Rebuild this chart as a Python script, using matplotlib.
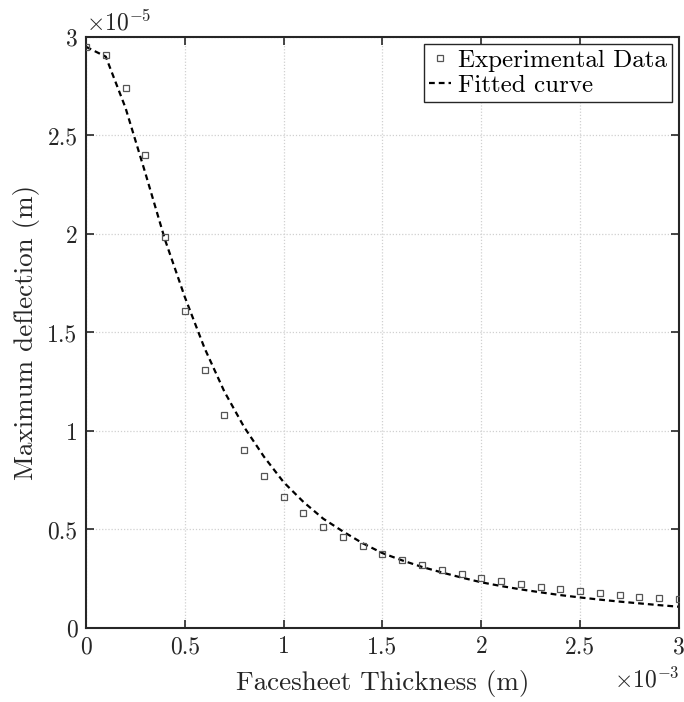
import matplotlib
matplotlib.use("Agg")
import matplotlib.pyplot as plt
from matplotlib.ticker import FuncFormatter, MultipleLocator

plt.rcParams['font.family'] = 'serif'
plt.rcParams['font.serif'] = ['cmr10', 'DejaVu Serif']
plt.rcParams['mathtext.fontset'] = 'cm'
plt.rcParams['axes.unicode_minus'] = False

# Facesheet thickness (x 1e-3 m)
thickness = [0.0, 0.1, 0.2, 0.3, 0.4, 0.5, 0.6, 0.7, 0.8, 0.9, 1.0,
             1.1, 1.2, 1.3, 1.4, 1.5, 1.6, 1.7, 1.8, 1.9, 2.0,
             2.1, 2.2, 2.3, 2.4, 2.5, 2.6, 2.7, 2.8, 2.9, 3.0]
# Experimental maximum deflection (x 1e-5 m)
exp_deflection = [2.95, 2.91, 2.74, 2.40, 1.985, 1.61, 1.31, 1.08, 0.904, 0.772, 0.665,
                  0.584, 0.513, 0.462, 0.416, 0.376, 0.345, 0.320, 0.294, 0.274, 0.254,
                  0.239, 0.223, 0.208, 0.198, 0.188, 0.178, 0.168, 0.157, 0.152, 0.147]
# Fitted curve values (x 1e-5 m)
fit_deflection = [2.95, 2.90, 2.64, 2.31, 1.97, 1.68, 1.42, 1.20, 1.02, 0.87, 0.74,
                  0.64, 0.555, 0.49, 0.43, 0.38, 0.343, 0.310, 0.282, 0.256, 0.232,
                  0.213, 0.196, 0.181, 0.167, 0.155, 0.144, 0.134, 0.125, 0.116, 0.108]

fig = plt.figure(figsize=(6.84, 7.02), dpi=100)
ax = fig.add_axes([0.1257, 0.1054, 0.867, 0.842])

ax.plot(thickness, exp_deflection, linestyle='none', marker='s', markersize=5,
        markerfacecolor='none', markeredgecolor='#555555', markeredgewidth=0.9,
        label='Experimental Data', zorder=3)
ax.plot(thickness, fit_deflection, color='black', linestyle='--', linewidth=1.6,
        dashes=(2.6, 1.8), label='Fitted curve', zorder=2)

ax.set_xlim(0, 3)
ax.set_ylim(0, 3)
ax.xaxis.set_major_locator(MultipleLocator(0.5))
ax.yaxis.set_major_locator(MultipleLocator(0.5))
fmt = FuncFormatter(lambda v, p: ('%g' % round(v, 3)))
ax.xaxis.set_major_formatter(fmt)
ax.yaxis.set_major_formatter(fmt)

ax.grid(True, linestyle=(0, (1, 1.5)), color='#d0d0d0', linewidth=0.9)
ax.set_axisbelow(True)
ax.tick_params(direction='in', length=6, width=1.2, top=True, right=True,
               labelsize=17, colors='#262626', pad=6)
for s in ax.spines.values():
    s.set_linewidth(1.5)
    s.set_color('#262626')

ax.set_xlabel('Facesheet Thickness (m)', fontsize=19.5, color='#262626', labelpad=8)
ax.set_ylabel('Maximum deflection (m)', fontsize=19.5, color='#262626', labelpad=5)

ax.text(0.0, 1.003, r'$\times10^{-5}$', transform=ax.transAxes, fontsize=17,
        ha='left', va='bottom', color='#262626')
ax.text(1.0, -0.066, r'$\times10^{-3}$', transform=ax.transAxes, fontsize=17,
        ha='right', va='top', color='#262626')

leg = ax.legend(loc='upper right', fontsize=18, handlelength=0.9, handletextpad=0.25,
                borderpad=0.2, labelspacing=0.1, borderaxespad=0.3, fancybox=False,
                framealpha=1, edgecolor='#262626', markerscale=0.8)
leg.get_frame().set_linewidth(1.0)

fig.savefig('out.png', dpi=100)
